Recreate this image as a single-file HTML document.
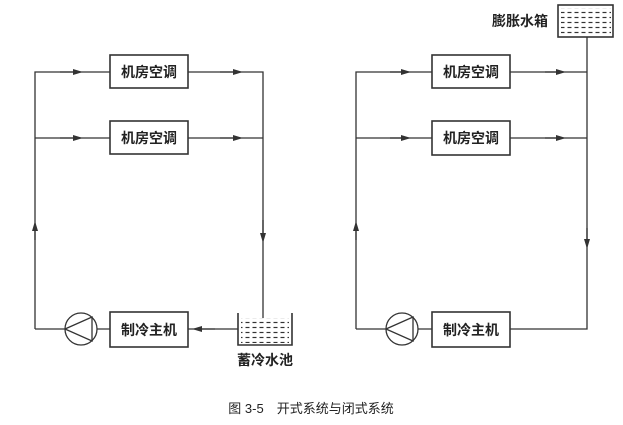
<!DOCTYPE html>
<html><head><meta charset="utf-8"><style>
html,body{margin:0;padding:0;background:#fff;}
svg{display:block;}
text{font-family:"Liberation Sans","Noto Sans CJK SC",sans-serif;fill:#222;}
</style></head><body>
<svg width="623" height="425" viewBox="0 0 623 425" xmlns="http://www.w3.org/2000/svg">
<defs>
<marker id="a" viewBox="0 0 10 6" refX="5" refY="3" markerWidth="10" markerHeight="6" orient="auto" markerUnits="userSpaceOnUse"><path d="M0,0 L10,3 L0,6 Z" fill="#333"/></marker>
<pattern id="w" width="7" height="5" patternUnits="userSpaceOnUse"><line x1="0.5" y1="2.5" x2="4.5" y2="2.5" stroke="#333" stroke-width="1.2"/></pattern>
</defs>
<g stroke="#333" stroke-width="1.3" fill="none">
<!-- left system -->
<path d="M35,329 V72 H110 M188,72 H263 V318 M35,138 H110 M188,138 H263"/>
<line x1="35" y1="240" x2="35" y2="226" marker-end="url(#a)"/>
<line x1="60" y1="72" x2="78" y2="72" marker-end="url(#a)"/>
<line x1="60" y1="138" x2="78" y2="138" marker-end="url(#a)"/>
<line x1="220" y1="72" x2="238" y2="72" marker-end="url(#a)"/>
<line x1="220" y1="138" x2="238" y2="138" marker-end="url(#a)"/>
<line x1="263" y1="220" x2="263" y2="238" marker-end="url(#a)"/>
<path d="M35,329 H65 M97,329 H110 M188,329 H238"/>
<line x1="215" y1="329" x2="197" y2="329" marker-end="url(#a)"/>
<rect x="110" y="55" width="78" height="33" stroke-width="1.6"/>
<rect x="110" y="121" width="78" height="33" stroke-width="1.6"/>
<rect x="110" y="312" width="78" height="35" stroke-width="1.6"/>
<circle cx="81" cy="329" r="16"/>
<path d="M65,329 L92,317 L92,341 Z"/>
<path d="M238,313 V345 H292 V313" stroke-width="1.6"/>
<rect x="241" y="318" width="48" height="25" fill="url(#w)" stroke="none"/>
<!-- right system -->
<path d="M356,329 V72 H432 M510,72 H587 V329 H510 M356,138 H432 M510,138 H587 M587,72 V37"/>
<line x1="356" y1="240" x2="356" y2="226" marker-end="url(#a)"/>
<line x1="390" y1="72" x2="406" y2="72" marker-end="url(#a)"/>
<line x1="390" y1="138" x2="406" y2="138" marker-end="url(#a)"/>
<line x1="545" y1="72" x2="561" y2="72" marker-end="url(#a)"/>
<line x1="545" y1="138" x2="561" y2="138" marker-end="url(#a)"/>
<line x1="587" y1="228" x2="587" y2="244" marker-end="url(#a)"/>
<path d="M356,329 H386 M418,329 H432"/>
<rect x="432" y="55" width="78" height="33" stroke-width="1.6"/>
<rect x="432" y="121" width="78" height="34" stroke-width="1.6"/>
<rect x="432" y="312" width="78" height="35" stroke-width="1.6"/>
<circle cx="402" cy="329" r="16"/>
<path d="M386,329 L413,317 L413,341 Z"/>
<rect x="558" y="5" width="55" height="32" stroke-width="1.6"/>
<rect x="561" y="8" width="50" height="27" fill="url(#w)" stroke="none"/>
</g>
<g font-size="14" font-weight="bold" text-anchor="middle">
<text x="149" y="77">机房空调</text>
<text x="149" y="143">机房空调</text>
<text x="149" y="335">制冷主机</text>
<text x="265" y="365">蓄冷水池</text>
<text x="471" y="77">机房空调</text>
<text x="471" y="143">机房空调</text>
<text x="471" y="335">制冷主机</text>
<text x="520" y="26">膨胀水箱</text>
</g>
<text x="311" y="413" font-size="13" text-anchor="middle">图 3-5　开式系统与闭式系统</text>
</svg>
</body></html>
